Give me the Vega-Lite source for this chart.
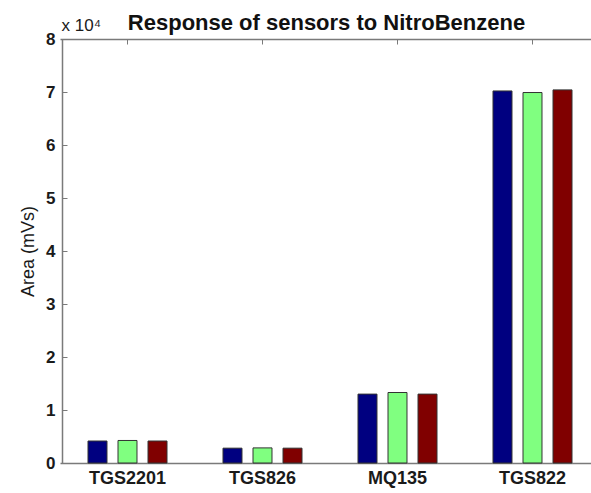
{
  "$schema": "https://vega.github.io/schema/vega-lite/v6.json",
  "width": 529,
  "height": 424,
  "autosize": {"type": "none"},
  "padding": {"left": 62, "top": 39, "right": 0, "bottom": 30},
  "background": "white",
  "config": {
    "view": {"stroke": null},
    "font": "Liberation Sans",
    "axis": {"domainColor": "#7a7a7a", "domainWidth": 1.5, "tickColor": "#7a7a7a", "labelColor": "#1a1a1a", "titleColor": "#1a1a1a", "grid": false}
  },
  "title": {"text": "Response of sensors to NitroBenzene", "fontSize": 22, "fontWeight": "bold", "color": "#111111", "anchor": "middle", "offset": 8, "dy": 26},
  "datasets": {
    "sensors": [
      {"sensor": "TGS2201", "trial": "Trial 1", "area": 4150},
      {"sensor": "TGS2201", "trial": "Trial 2", "area": 4250},
      {"sensor": "TGS2201", "trial": "Trial 3", "area": 4150},
      {"sensor": "TGS826", "trial": "Trial 1", "area": 2800},
      {"sensor": "TGS826", "trial": "Trial 2", "area": 2850},
      {"sensor": "TGS826", "trial": "Trial 3", "area": 2800},
      {"sensor": "MQ135", "trial": "Trial 1", "area": 13000},
      {"sensor": "MQ135", "trial": "Trial 2", "area": 13300},
      {"sensor": "MQ135", "trial": "Trial 3", "area": 13000},
      {"sensor": "TGS822", "trial": "Trial 1", "area": 70200},
      {"sensor": "TGS822", "trial": "Trial 2", "area": 69900},
      {"sensor": "TGS822", "trial": "Trial 3", "area": 70400}
    ]
  },
  "layer": [
    {
      "data": {"name": "sensors"},
      "mark": {"type": "bar", "stroke": "#333333", "strokeWidth": 1},
      "encoding": {
        "x": {
          "field": "sensor", "type": "nominal", "sort": null,
          "scale": {"range": [-2, 538], "paddingInner": 0, "paddingOuter": 0},
          "axis": {"orient": "bottom", "title": null, "ticks": false, "labelAngle": 0, "labelFontSize": 18, "labelFontWeight": "bold", "labelPadding": 6}
        },
        "xOffset": {"field": "trial", "scale": {"paddingInner": 0.367, "paddingOuter": 0.933}},
        "y": {
          "field": "area", "type": "quantitative",
          "scale": {"domain": [0, 80000], "nice": false},
          "axis": {
            "values": [0, 10000, 20000, 30000, 40000, 50000, 60000, 70000, 80000],
            "labelExpr": "datum.value / 10000",
            "tickSize": -5, "labelPadding": 12, "labelFontSize": 17, "labelFontWeight": "bold",
            "title": "Area (mVs)", "titleFontSize": 18, "titleFontWeight": "normal", "titlePadding": 8
          }
        },
        "color": {"field": "trial", "type": "nominal", "scale": {"range": ["#000080", "#80ff80", "#800000"]}, "legend": null}
      }
    },
    {
      "data": {"name": "sensors"},
      "mark": {"type": "point", "opacity": 0},
      "encoding": {
        "x": {"field": "sensor", "type": "nominal", "sort": null, "axis": {"orient": "top", "labels": false, "title": null, "tickSize": -5}},
        "y": {"field": "area", "type": "quantitative"}
      }
    },
    {
      "data": {"values": [{"sensor": "TGS2201", "area": 80000, "txt": "x 10⁴"}]},
      "mark": {"type": "text", "align": "left", "baseline": "alphabetic", "dx": -66, "dy": -8, "fontSize": 17, "color": "#1a1a1a"},
      "encoding": {
        "x": {"field": "sensor", "type": "nominal", "sort": null, "axis": null},
        "y": {"field": "area", "type": "quantitative"},
        "text": {"field": "txt"}
      }
    }
  ],
  "resolve": {"axis": {"x": "independent"}}
}
